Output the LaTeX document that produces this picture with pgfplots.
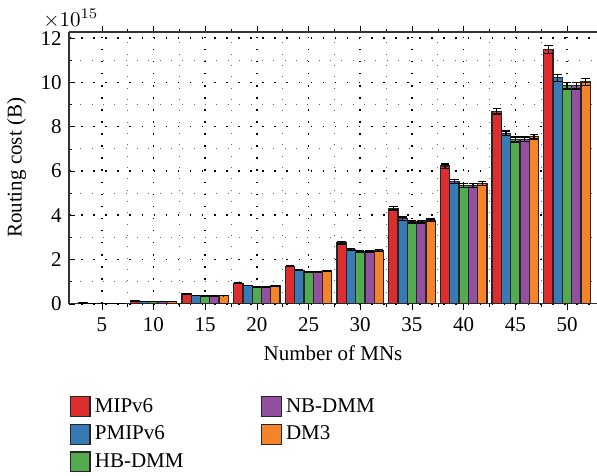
\documentclass[border=0pt]{standalone}
\usepackage{fontspec}
\setmainfont{Liberation Serif}
\usepackage{pgfplots}
\pgfplotsset{compat=1.18}
\usepackage{pgfplotstable}
\definecolor{cMIP}{RGB}{221,45,46}
\definecolor{cPMIP}{RGB}{56,122,180}
\definecolor{cHB}{RGB}{84,170,80}
\definecolor{cNB}{RGB}{148,80,160}
\definecolor{cDM}{RGB}{245,132,40}

\pgfplotstableread{
x y e
5 0.035e15 0.001e15
10 0.135e15 0.003e15
15 0.45e15 0.008e15
20 0.93e15 0.02e15
25 1.70e15 0.03e15
30 2.75e15 0.05e15
35 4.31e15 0.07e15
40 6.22e15 0.10e15
45 8.69e15 0.12e15
50 11.49e15 0.18e15
}\tMIP
\pgfplotstableread{
x y e
5 0.030e15 0.001e15
10 0.115e15 0.003e15
15 0.38e15 0.007e15
20 0.83e15 0.015e15
25 1.52e15 0.03e15
30 2.45e15 0.04e15
35 3.85e15 0.07e15
40 5.52e15 0.09e15
45 7.70e15 0.11e15
50 10.21e15 0.16e15
}\tPMIP
\pgfplotstableread{
x y e
5 0.028e15 0.001e15
10 0.110e15 0.002e15
15 0.36e15 0.006e15
20 0.78e15 0.014e15
25 1.45e15 0.025e15
30 2.38e15 0.04e15
35 3.71e15 0.06e15
40 5.34e15 0.08e15
45 7.42e15 0.11e15
50 9.85e15 0.15e15
}\tHB
\pgfplotstableread{
x y e
5 0.028e15 0.001e15
10 0.110e15 0.002e15
15 0.36e15 0.006e15
20 0.78e15 0.014e15
25 1.45e15 0.025e15
30 2.38e15 0.04e15
35 3.71e15 0.06e15
40 5.34e15 0.08e15
45 7.43e15 0.11e15
50 9.85e15 0.15e15
}\tNB
\pgfplotstableread{
x y e
5 0.029e15 0.001e15
10 0.112e15 0.002e15
15 0.37e15 0.006e15
20 0.81e15 0.014e15
25 1.49e15 0.025e15
30 2.41e15 0.04e15
35 3.77e15 0.06e15
40 5.43e15 0.08e15
45 7.55e15 0.11e15
50 10.02e15 0.15e15
}\tDM

\pgfplotsset{
  ebar/.style={error bars/.cd, y dir=both, y explicit,
    error bar style={black, line width=0.6pt},
    error mark options={black, line width=0.6pt, mark size=2pt, rotate=90}},
}

\begin{document}
\begin{tikzpicture}
\begin{axis}[
  scale only axis, width=251.4pt, height=129.5pt,
  ybar=0pt, bar width=0.9,
  xmin=1.84, xmax=52.9, ymin=0, ymax=12.28e15,
  xtick={5,10,15,20,25,30,35,40,45,50},
  ytick={0,2e15,4e15,6e15,8e15,10e15,12e15},
  scaled y ticks=base 10:-15,
  ytick scale label code/.code={$\times 10^{#1}$},
  every y tick scale label/.style={at={(rel axis cs:0,1)}, anchor=south west,
    xshift=-12.5pt, yshift=1.5pt, inner sep=0pt},
  /pgf/number format/assume math mode=true,
  minor x tick num=1, minor y tick num=1,
  grid=both,
  major grid style={black, line width=0.75pt, dash pattern=on 0.75pt off 5pt},
  minor grid style={black!60, line width=0.4pt, dash pattern=on 0.4pt off 5pt},
  axis x line*=box, axis y line*=left,
  axis line style={black!80, line width=0.6pt},
  major tick length=3pt, minor tick length=1.5pt,
  tick style={black},
  xlabel={Number of MNs}, ylabel={Routing cost (B)},
  legend columns=3, transpose legend,
  legend cell align=left,
  legend style={at={(0,-0.33)}, anchor=north west, draw=none, fill=none,
    inner sep=0pt, row sep=1pt,
    /tikz/every even column/.append style={column sep=34.7pt}},
  every axis plot post/.append style={
    legend image code/.code={\draw[##1,draw=black!85,line width=0.6pt] (0pt,-4.7pt) rectangle (9.5pt,4.7pt);}},
]
\addplot[fill=cMIP, draw=black!85, line width=0.6pt, ebar] table[x=x,y=y,y error=e] {\tMIP};
\addplot[fill=cPMIP, draw=black!85, line width=0.6pt, ebar] table[x=x,y=y,y error=e] {\tPMIP};
\addplot[fill=cHB, draw=black!85, line width=0.6pt, ebar] table[x=x,y=y,y error=e] {\tHB};
\addplot[fill=cNB, draw=black!85, line width=0.6pt, ebar] table[x=x,y=y,y error=e] {\tNB};
\addplot[fill=cDM, draw=black!85, line width=0.6pt, ebar] table[x=x,y=y,y error=e] {\tDM};
\legend{MIPv6, PMIPv6, HB-DMM, NB-DMM, DM3}
\end{axis}
\pgfresetboundingbox
\path[use as bounding box] (-32.9pt,-81.9pt) rectangle (251.4pt,144.7pt);
\end{tikzpicture}
\end{document}
